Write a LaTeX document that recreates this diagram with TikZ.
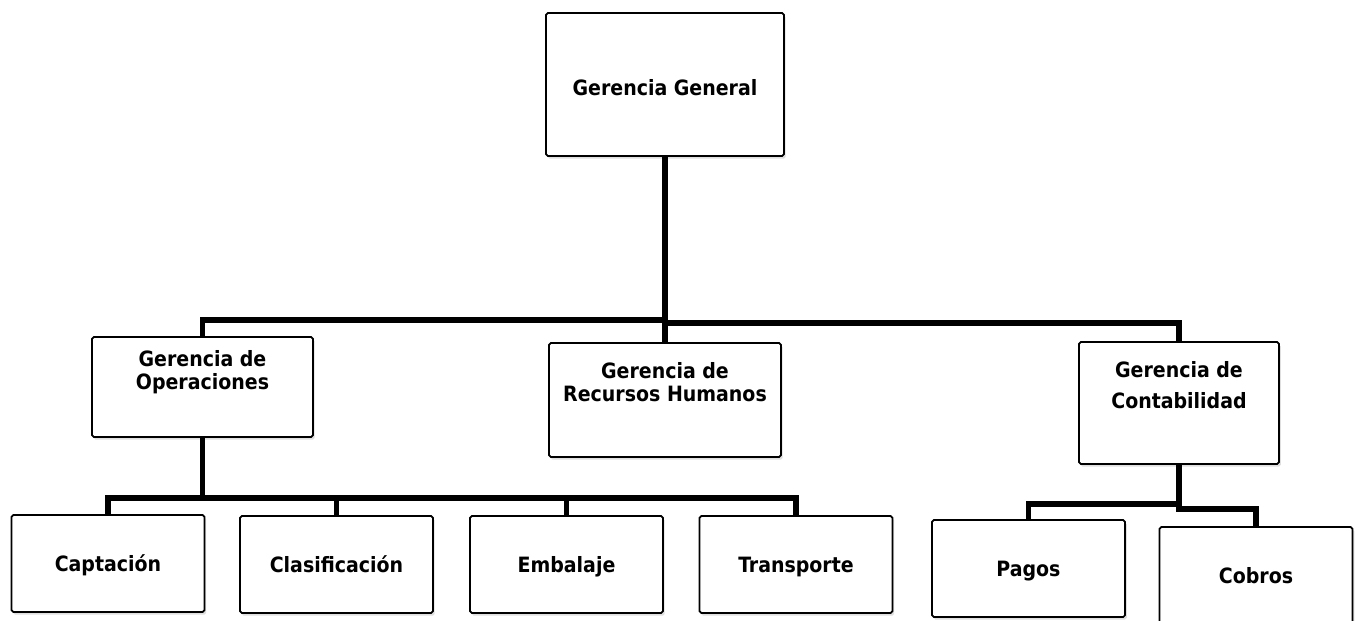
\documentclass[tikz,border=0pt]{standalone}
\usepackage{fontspec}
\setmainfont{DejaVu Sans Condensed}
\usetikzlibrary{positioning, shadows}

\begin{document}
\begin{tikzpicture}[x=0.02cm, y=-0.02cm,
    orgbox/.style={draw, line width=1pt, rounded corners=1pt, fill=white,
      drop shadow={shadow xshift=1pt, shadow yshift=-1.5pt, opacity=0.25},
      font=\bfseries\fontsize{12}{13}\selectfont, align=center,
      text height=1.15em, text depth=0.2em,
      minimum width=3.86cm, minimum height=1.94cm},
    toplbl/.style={anchor=north, yshift=#1, align=center, inner sep=0pt,
      font=\bfseries\fontsize{12}{13}\selectfont},
    conn/.style={line width=3pt}]

\useasboundingbox (0,0) rectangle (1359,620);

% top
\node[orgbox, minimum width=4.76cm, minimum height=2.86cm, text height=1.5em] (gg) at (665,84.5) {Gerencia General};

% gerencias
\node[orgbox, minimum width=4.42cm, minimum height=2cm,
  label={[toplbl=-0.28cm]north:{Gerencia de\\Operaciones}}] (ops) at (202.5,387) {};
\node[orgbox, minimum width=4.64cm, minimum height=2.28cm,
  label={[toplbl=-0.4cm]north:{Gerencia de\\Recursos Humanos}}] (rrhh) at (665,400) {};
\node[orgbox, minimum width=4cm, minimum height=2.44cm,
  label={[toplbl=-0.4cm]north:{Gerencia de\\[4.6pt]Contabilidad}}] (cont) at (1179,403) {};

% areas
\node[orgbox] (capt) at (108,563.5) {Captación};
\node[orgbox] (clas) at (336.5,564.5) {Clasificación};
\node[orgbox] (emb) at (566.5,564.5) {Embalaje};
\node[orgbox] (trans) at (796,564.5) {Transporte};
\node[orgbox] (pagos) at (1028.5,568.5) {Pagos};
\node[orgbox] (cobros) at (1256,575.5) {Cobros};

% lineas
\coordinate (jl) at (665,320);
\coordinate (jr) at (665,323);
\path (ops.south) ++(0,60) coordinate (jo);
\path (cont.south) ++(0,39) coordinate (jc);

\draw[conn] (gg.south) -- (rrhh.north);
\draw[conn] (ops.north) |- (jl);
\draw[conn] (cont.north) |- (jr);
\draw[conn] (capt.north) |- (trans.north |- jo) -- (trans.north);
\draw[conn] (ops.south) -- (jo);
\foreach \b in {clas,emb}
  \draw[conn] (jo -| \b.north) -- (\b.north);
\draw[conn] (pagos.north) |- (jc) -- (cont.south);
\draw[conn] (jc) -- ++(0,5) -| (cobros.north);
\end{tikzpicture}
\end{document}
